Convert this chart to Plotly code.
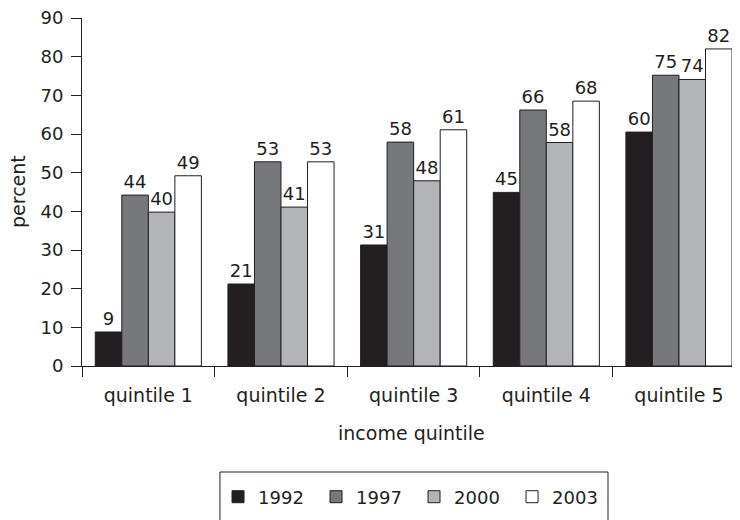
import plotly.graph_objects as go

categories = ["quintile 1", "quintile 2", "quintile 3", "quintile 4", "quintile 5"]
years = ["1992", "1997", "2000", "2003"]
v1992 = [8.8, 21.2, 31.3, 44.9, 60.5]
v1997 = [44.2, 52.8, 57.9, 66.2, 75.2]
v2000 = [39.8, 41.1, 47.9, 57.8, 74.1]
v2003 = [49.2, 52.8, 61.1, 68.5, 82.0]
labels1992 = [9, 21, 31, 45, 60]
labels1997 = [44, 53, 58, 66, 75]
labels2000 = [40, 41, 48, 58, 74]
labels2003 = [49, 53, 61, 68, 82]
y_ticks = [0, 10, 20, 30, 40, 50, 60, 70, 80, 90]

series = [v1992, v1997, v2000, v2003]
label_sets = [labels1992, labels1997, labels2000, labels2003]
colors = ["#231f20", "#77787b", "#b3b4b7", "#ffffff"]
ink = "#231f20"
font_family = "DejaVu Sans, sans-serif"

fig = go.Figure()
for name, vals, labs, col in zip(years, series, label_sets, colors):
    fig.add_trace(go.Bar(
        name=name, x=categories, y=vals,
        text=[str(t) for t in labs], textposition="outside",
        textfont=dict(size=18, color=ink, family=font_family),
        marker=dict(color=col, line=dict(color=ink, width=1)),
        cliponaxis=False, constraintext="none",
    ))

# The page body adds an 8px margin, so the figure is sized to the remaining area.
fig.update_layout(
    width=732, height=512,
    barmode="group", bargap=0.2, bargroupgap=0,
    plot_bgcolor="white", paper_bgcolor="white",
    margin=dict(l=74, r=0, t=10, b=154, autoexpand=False),
    font=dict(family=font_family, color=ink, size=19),
    showlegend=True,
    legend=dict(orientation="h", x=0.5046, xanchor="center", y=-0.3233, yanchor="top",
                borderwidth=0, bgcolor="rgba(0,0,0,0)", font=dict(size=18, color=ink),
                itemwidth=30, entrywidth=53),
    xaxis=dict(range=[-0.5, 4.46], showline=True, linecolor=ink, linewidth=1,
               ticks="outside", tickson="boundaries", ticklen=10, tickcolor=ink,
               tickfont=dict(size=19, color=ink), ticklabelstandoff=12,
               showgrid=False, zeroline=False, fixedrange=True),
    yaxis=dict(range=[0, 90], tickvals=y_ticks, showline=True, linecolor=ink, linewidth=1,
               ticks="outside", ticklen=10, tickcolor=ink, ticklabeloverflow="allow",
               tickfont=dict(size=18, color=ink), ticklabelstandoff=4,
               showgrid=False, zeroline=False),
    shapes=[
        dict(type="rect", xref="paper", yref="paper", x0=0.2097, x1=0.7994,
             y0=-0.3046, y1=-0.471, line=dict(color=ink, width=1),
             fillcolor="rgba(0,0,0,0)", layer="below"),
    ],
    annotations=[
        dict(text="percent", xref="paper", yref="paper", x=0, y=0.5, xshift=-64,
             xanchor="center", yanchor="middle", textangle=-90, showarrow=False,
             font=dict(size=19, color=ink)),
        dict(text="income quintile", xref="paper", yref="paper", x=0.5, y=0, yshift=-67,
             xanchor="center", yanchor="middle", showarrow=False,
             font=dict(size=19, color=ink)),
    ],
)

fig.write_html("out.html")
